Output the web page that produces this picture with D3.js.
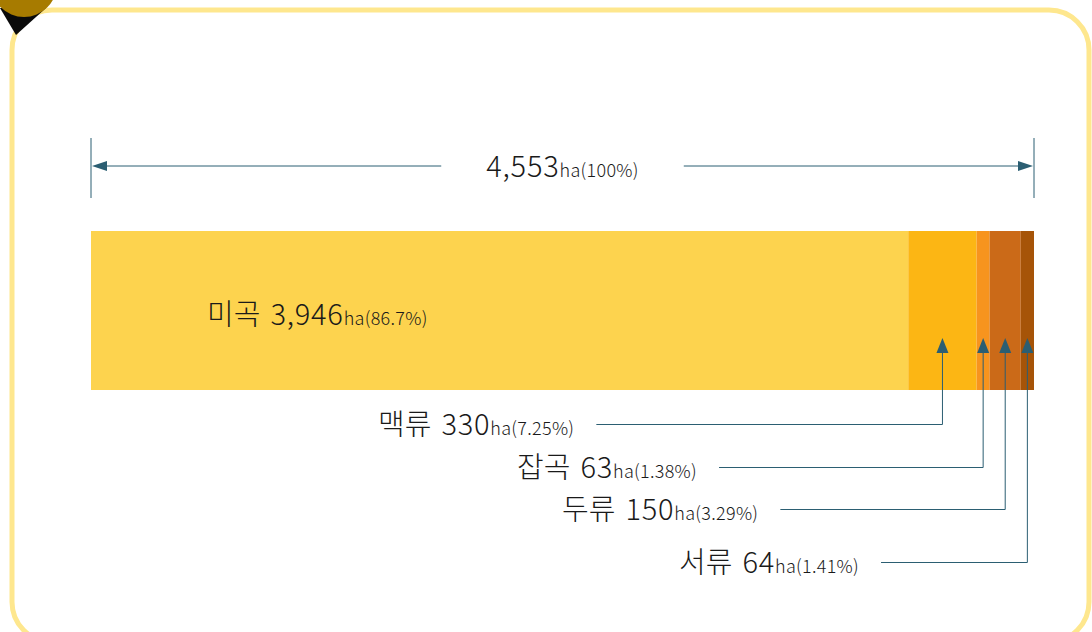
<!DOCTYPE html>
<html>
<head>
<meta charset="utf-8">
<script src="https://cdn.jsdelivr.net/npm/d3@7"></script>
<style>
  body { margin: 0; background: #fff; }
  svg { display: block; font-family: "Noto Sans CJK KR", "Noto Sans", sans-serif; }
</style>
</head>
<body>
<div id="chart"></div>
<script>
const categories = ["미곡", "맥류", "잡곡", "두류", "서류"];
const areas = [3946, 330, 63, 150, 64];
const shares = ["86.7%", "7.25%", "1.38%", "3.29%", "1.41%"];
const totalArea = 4553;
const totalShare = "100%";
const colors = ["#fdd34e", "#fcb614", "#f7941e", "#cb6a18", "#a65408"];

// where the small-segment labels sit (text start x, baseline y)
const labelRows = [
  { x: 378, y: 435 },
  { x: 517, y: 478 },
  { x: 562, y: 520 },
  { x: 679, y: 573 }
];

const W = 1092, H = 632;
const bar = { top: 231, height: 159 };
const lineColor = "#2b5e72";

const svg = d3.select("#chart").append("svg")
  .attr("width", W).attr("height", H);

// frame + corner badge
svg.append("rect")
  .attr("x", 12).attr("y", 10)
  .attr("width", 1077).attr("height", 632)
  .attr("rx", 40).attr("ry", 40)
  .attr("fill", "none")
  .attr("stroke", "#fee78e")
  .attr("stroke-width", 5);

svg.append("path")
  .attr("d", "M0,8 L46,8 L16,35 Z")
  .attr("fill", "#0a0a0a");
svg.append("circle")
  .attr("cx", 24).attr("cy", -16).attr("r", 33)
  .attr("fill", "#a77b00");

const x = d3.scaleLinear().domain([0, totalArea]).range([91, 1034]);

let acc = 0;
const segs = areas.map((v, i) => {
  const s = { name: categories[i], value: v, share: shares[i], start: acc, end: acc + v, color: colors[i] };
  acc += v;
  return s;
});

svg.selectAll("rect.seg")
  .data(segs)
  .join("rect")
  .attr("class", "seg")
  .attr("x", d => x(d.start))
  .attr("y", bar.top)
  .attr("width", d => x(d.end) - x(d.start))
  .attr("height", bar.height)
  .attr("fill", d => d.color);

function addLabel(g, name, value, share, bigSize, smallSize) {
  const t = g.append("text").attr("fill", "#1a1a1a");
  if (name) {
    t.append("tspan").attr("font-size", bigSize).attr("font-weight", 300).text(name);
  }
  t.append("tspan").attr("font-size", bigSize).attr("font-weight", 300)
    .attr("dx", name ? 10 : 0)
    .attr("letter-spacing", 0.8)
    .text(d3.format(",")(value));
  t.append("tspan").attr("font-size", smallSize).attr("font-weight", 300)
    .attr("letter-spacing", 0.3)
    .text("ha(" + share + ")");
  return t;
}

// top dimension line
const dim = svg.append("g");
const dimY = 166;
[x(0), x(totalArea)].forEach(px => {
  dim.append("line")
    .attr("x1", px).attr("x2", px).attr("y1", 138).attr("y2", 198)
    .attr("stroke", lineColor).attr("stroke-width", 1);
});
const totalText = addLabel(dim, null, totalArea, totalShare, 29, 18)
  .attr("y", 177);
const tw = totalText.node().getBBox().width;
const midX = (x(0) + x(totalArea)) / 2;
totalText.attr("x", midX - tw / 2);
const gap = 45;
dim.append("line")
  .attr("x1", x(0) + 10).attr("x2", midX - tw / 2 - gap)
  .attr("y1", dimY).attr("y2", dimY)
  .attr("stroke", lineColor).attr("stroke-width", 1);
dim.append("line")
  .attr("x1", midX + tw / 2 + gap).attr("x2", x(totalArea) - 10)
  .attr("y1", dimY).attr("y2", dimY)
  .attr("stroke", lineColor).attr("stroke-width", 1);
dim.append("path")
  .attr("d", `M${x(0) + 1},${dimY} L${x(0) + 16},${dimY - 5} L${x(0) + 16},${dimY + 5} Z`)
  .attr("fill", lineColor);
dim.append("path")
  .attr("d", `M${x(totalArea) - 1},${dimY} L${x(totalArea) - 16},${dimY - 5} L${x(totalArea) - 16},${dimY + 5} Z`)
  .attr("fill", lineColor);

// big segment label inside the bar
addLabel(svg.append("g"), segs[0].name, segs[0].value, segs[0].share, 29, 18)
  .attr("x", 207).attr("y", 325);

// small segments: label + elbow leader with arrow
const tipY = 338;
segs.slice(1).forEach((d, i) => {
  const g = svg.append("g");
  const row = labelRows[i];
  const t = addLabel(g, d.name, d.value, d.share, 29, 18)
    .attr("x", row.x).attr("y", row.y);
  const endX = row.x + t.node().getBBox().width;
  const ax = (x(d.start) + x(d.end)) / 2;
  const ly = row.y - 10.5;
  g.append("path")
    .attr("d", `M${endX + 22},${ly} H${ax} V${tipY + 12}`)
    .attr("fill", "none")
    .attr("stroke", lineColor)
    .attr("stroke-width", 1);
  g.append("path")
    .attr("d", `M${ax},${tipY} L${ax - 6},${tipY + 15} L${ax + 6},${tipY + 15} Z`)
    .attr("fill", lineColor);
});
</script>
</body>
</html>
